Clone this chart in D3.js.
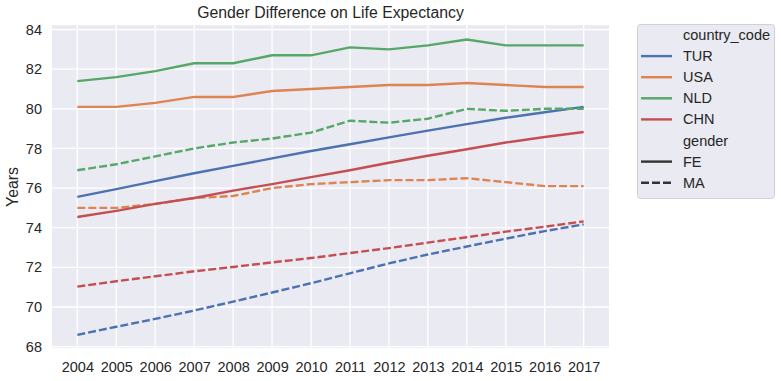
<!DOCTYPE html>
<html><head><meta charset="utf-8">
<script src="https://cdn.jsdelivr.net/npm/d3@7"></script>
<style>body{margin:0;background:#fff;} text{font-family:"Liberation Sans",Arial,sans-serif;fill:#262626;}</style>
</head><body><svg id="c" width="781" height="381"></svg>
<script>
const years = [2004,2005,2006,2007,2008,2009,2010,2011,2012,2013,2014,2015,2016,2017];
const countries = ["TUR","USA","NLD","CHN"];
const genders = ["FE","MA"];
const colors = ["#4c72b0","#dd8452","#55a868","#c44e52"];
const yTicks = [68,70,72,74,76,78,80,82,84];
const TUR_FE = [75.56,75.95,76.35,76.75,77.12,77.5,77.87,78.21,78.56,78.9,79.23,79.55,79.83,80.1];
const TUR_MA = [68.59,69.0,69.4,69.82,70.27,70.73,71.2,71.7,72.2,72.65,73.05,73.45,73.83,74.17];
const USA_FE = [80.1,80.1,80.3,80.6,80.6,80.9,81.0,81.1,81.2,81.2,81.3,81.2,81.1,81.1];
const USA_MA = [75.0,75.0,75.2,75.5,75.6,76.0,76.2,76.3,76.4,76.4,76.5,76.3,76.1,76.1];
const NLD_FE = [81.4,81.6,81.9,82.3,82.3,82.7,82.7,83.1,83.0,83.2,83.5,83.2,83.2,83.2];
const NLD_MA = [76.9,77.2,77.6,78.0,78.3,78.5,78.8,79.4,79.3,79.5,80.0,79.9,80.0,80.0];
const CHN_FE = [74.54,74.85,75.2,75.5,75.87,76.2,76.55,76.9,77.28,77.63,77.96,78.3,78.58,78.83];
const CHN_MA = [71.03,71.3,71.55,71.8,72.02,72.25,72.47,72.72,72.97,73.25,73.52,73.8,74.05,74.32];
const seriesData = {TUR_FE,TUR_MA,USA_FE,USA_MA,NLD_FE,NLD_MA,CHN_FE,CHN_MA};

const svg = d3.select("#c");
const L=52, R=609, T=25, B=348;
const x = d3.scaleLinear().domain([2004-0.65,2017+0.65]).range([L,R]);
const y = d3.scaleLinear().domain([67.93,84.23]).range([B,T]);

svg.append("rect").attr("x",L).attr("y",T).attr("width",R-L).attr("height",B-T).attr("fill","#eaeaf2");
const g = svg.append("g");
g.selectAll(".vg").data(years).join("line").attr("x1",d=>x(d)).attr("x2",d=>x(d)).attr("y1",T).attr("y2",B).attr("stroke","#fff").attr("stroke-width",1.3);
g.selectAll(".hg").data(yTicks).join("line").attr("x1",L).attr("x2",R).attr("y1",d=>y(d)).attr("y2",d=>y(d)).attr("stroke","#fff").attr("stroke-width",1.3);

const xa = svg.append("g").attr("transform",`translate(0,${B})`).call(d3.axisBottom(x).tickValues(years).tickFormat(d3.format("d")).tickSize(0).tickPadding(14));
const ya = svg.append("g").attr("transform",`translate(${L},0)`).call(d3.axisLeft(y).tickValues(yTicks).tickSize(0).tickPadding(10));
[xa,ya].forEach(a=>{a.select(".domain").remove();a.selectAll("text").attr("font-size",14.5).attr("fill","#262626").attr("font-family","Liberation Sans, Arial, sans-serif");});

const line = d3.line().x((d,i)=>x(years[i])).y(d=>y(d));
countries.forEach((c,ci)=>{
  genders.forEach((gd,gi)=>{
    svg.append("path").datum(seriesData[c+"_"+gd]).attr("d",line).attr("fill","none")
      .attr("stroke",colors[ci]).attr("stroke-width",2.4).attr("stroke-linecap","butt")
      .attr("stroke-dasharray",gi===1?"8,3":null);
  });
});

svg.append("text").attr("x",(L+R)/2).attr("y",18).attr("text-anchor","middle").attr("font-size",15.8).text("Gender Difference on Life Expectancy");
svg.append("text").attr("transform","translate(18,187) rotate(-90)").attr("text-anchor","middle").attr("font-size",15.8).text("Years");

// legend
const lg = svg.append("g");
lg.append("rect").attr("x",637.5).attr("y",24.5).attr("width",137).attr("height",174).attr("rx",3).attr("fill","#eaeaf2").attr("stroke","#d0d0d8").attr("stroke-width",1);
const items = [{t:"country_code"}].concat(countries.map((c,i)=>({t:c,col:colors[i]}))).concat([{t:"gender"}]).concat(genders.map((gd,i)=>({t:gd,col:"#333",dash:i===1})));
items.forEach((it,i)=>{
  const yy = 35+i*21.1;
  if(it.col){
    lg.append("line").attr("x1",641).attr("x2",672).attr("y1",yy).attr("y2",yy).attr("stroke",it.col).attr("stroke-width",2.4).attr("stroke-dasharray",it.dash?"8,3":null);
  }
  lg.append("text").attr("x",683).attr("y",yy+5).attr("font-size",14.5).text(it.t);
});
</script></body></html>
